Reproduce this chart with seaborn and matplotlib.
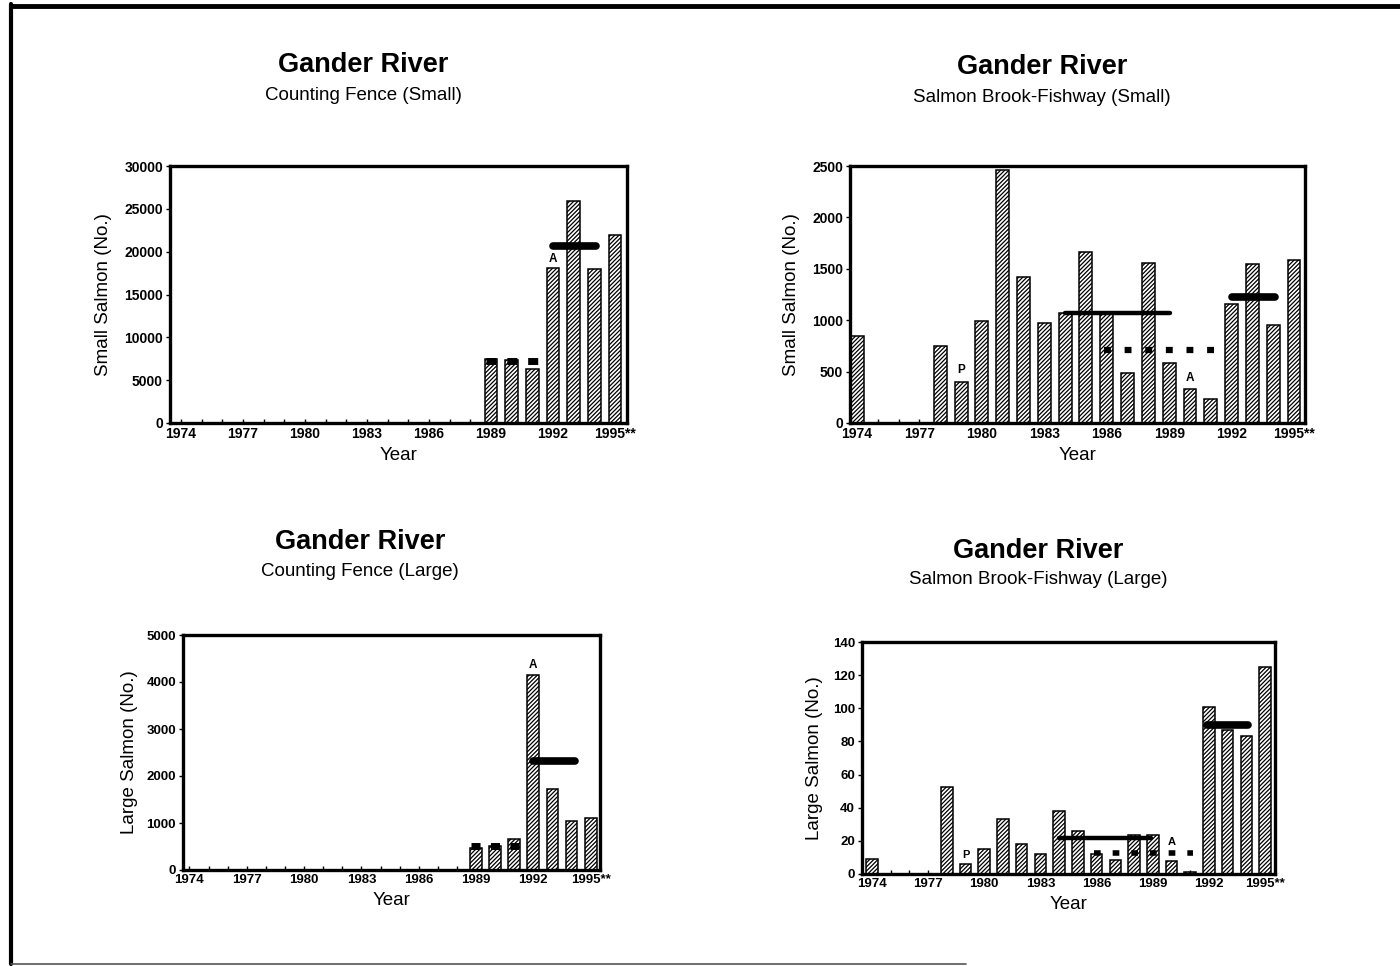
import matplotlib
matplotlib.use("Agg")
import matplotlib.pyplot as plt
from matplotlib.lines import Line2D
import seaborn as sns
import pandas as pd

sns.set_theme(style="white")
plt.rcParams['font.family'] = ['Liberation Sans', 'DejaVu Sans']
plt.rcParams['hatch.linewidth'] = 0.9
for key in ['text.color', 'axes.labelcolor', 'xtick.color', 'ytick.color']:
    plt.rcParams[key] = 'black'

# --- data ---
fence_years = list(range(1989, 1996))
brook_years = list(range(1974, 1996))

fence_small = [7500, 7300, 6300, 18100, 25900, 18000, 21900]
fence_large = [470, 510, 660, 4150, 1720, 1040, 1100]
brook_small = [850, 0, 0, 0, 750, 400, 990, 2460, 1420, 970, 1070,
               1660, 1060, 490, 1555, 585, 330, 235, 1160, 1550, 955, 1590]
brook_large = [9, 0, 0, 0, 52.5, 6, 15, 33, 18, 12, 38,
               26, 12, 8.5, 23.5, 23.5, 8, 1, 101, 87, 83, 125]

# reference lines: (start year, end year, level)
fence_small_mean = (1992, 1994.1, 20700)
fence_small_prev = (1988.75, 1991.3, 7200)
fence_large_mean = (1992, 1994.2, 2320)
fence_large_prev = (1988.75, 1991.3, 520)
brook_small_mean_8489 = (1984, 1989.05, 1070)
brook_small_mean_8691 = (1985.85, 1991.2, 710)
brook_small_mean_9294 = (1992, 1994.1, 1225)
brook_large_mean_8489 = (1984, 1988.9, 22)
brook_large_mean_8691 = (1985.85, 1991.15, 12.7)
brook_large_mean_9294 = (1991.9, 1994.1, 90)

tick_years = [1974, 1977, 1980, 1983, 1986, 1989, 1992, 1995]
tick_labels = ['1974', '1977', '1980', '1983', '1986', '1989', '1992', '1995**']

W, H = 1400, 966
fig = plt.figure(figsize=(14, 9.66), dpi=100)


def px_axes(left, top, right, bottom):
    return fig.add_axes([left / W, 1 - bottom / H, (right - left) / W, (bottom - top) / H])


def draw_panel(ax, years, values, yticks, ylabel, xlim, fs, ylab_x):
    df = pd.DataFrame({'year': years, 'count': values})
    sns.barplot(data=df, x='year', y='count', native_scale=True, width=0.62,
                color='white', saturation=1, edgecolor='black', linewidth=1.1,
                hatch='////////', errorbar=None, ax=ax)
    ax.set_xlim(*xlim)
    ax.set_ylim(yticks[0], yticks[-1])
    ax.set_yticks(yticks)
    ax.set_yticklabels([str(t) for t in yticks], fontsize=fs, fontweight='bold')
    ax.set_xticks(tick_years)
    ax.set_xticks(brook_years, minor=True)
    ax.set_xticklabels(tick_labels, fontsize=fs, fontweight='bold')
    ax.tick_params(axis='x', which='both', direction='in', length=3, width=1,
                   colors='black', pad=3, bottom=True)
    ax.tick_params(axis='y', direction='out', length=3, width=1, pad=2, left=True)
    for sp in ax.spines.values():
        sp.set_linewidth(2.4)
        sp.set_color('black')
    ax.set_ylabel(ylabel, fontsize=13.5)
    ax.set_xlabel('Year', fontsize=13.5)
    ax.yaxis.set_label_coords(ylab_x, 0.5)
    ax.xaxis.set_label_coords(0.5, -0.095)
    ax.grid(False)


def solid(ax, seg, lw):
    ax.plot([seg[0], seg[1]], [seg[2], seg[2]], color='black', lw=lw,
            solid_capstyle='round', zorder=5)


def dotted(ax, seg, lw, on, off):
    ax.plot([seg[0], seg[1]], [seg[2], seg[2]], color='black', lw=lw,
            dashes=(on, off), dash_capstyle='butt', zorder=5)


def mark(ax, x, y, s, dy, fs=8.5):
    ax.annotate(s, xy=(x, y), xytext=(0, dy), textcoords='offset points',
                ha='center', va='bottom', fontsize=fs, fontweight='bold')


# top-left: counting fence, small
ax1 = px_axes(170, 166, 627, 423)
draw_panel(ax1, fence_years, fence_small, list(range(0, 30001, 5000)),
           'Small Salmon (No.)', (1973.47, 1995.58), 10, -0.127)
solid(ax1, fence_small_mean, 5.5)
dotted(ax1, fence_small_prev, 5, 1.45, 1.55)
mark(ax1, 1992, fence_small[3], 'A', 2)

# top-right: Salmon Brook fishway, small
ax2 = px_axes(850, 166, 1305, 423)
draw_panel(ax2, brook_years, brook_small, list(range(0, 2501, 500)),
           'Small Salmon (No.)', (1973.66, 1995.53), 10, -0.11)
solid(ax2, brook_small_mean_8489, 3.2)
dotted(ax2, brook_small_mean_8691, 4.5, 1.1, 2.2)
solid(ax2, brook_small_mean_9294, 5.5)
mark(ax2, 1979, brook_small[5], 'P', 4)
mark(ax2, 1990, brook_small[16], 'A', 4)

# bottom-left: counting fence, large
ax3 = px_axes(183, 635, 600, 870)
draw_panel(ax3, fence_years, fence_large, list(range(0, 5001, 1000)),
           'Large Salmon (No.)', (1973.66, 1995.49), 9.5, -0.108)
solid(ax3, fence_large_mean, 5.5)
dotted(ax3, fence_large_prev, 5, 1.3, 1.5)
mark(ax3, 1992, fence_large[3], 'A', 3)

# bottom-right: Salmon Brook fishway, large
ax4 = px_axes(862, 642, 1275, 874)
draw_panel(ax4, brook_years, brook_large, list(range(0, 141, 20)),
           'Large Salmon (No.)', (1973.47, 1995.53), 9.5, -0.094)
solid(ax4, brook_large_mean_8489, 3.2)
dotted(ax4, brook_large_mean_8691, 4, 1.2, 2.16)
solid(ax4, brook_large_mean_9294, 5.5)
mark(ax4, 1979, brook_large[5], 'P', 3, 8)
mark(ax4, 1990, brook_large[16], 'A', 10, 8)

# titles
titles = [
    (363, 65, 95, 'Counting Fence (Small)'),
    (1042, 67, 97, 'Salmon Brook-Fishway (Small)'),
    (360, 542, 571, 'Counting Fence (Large)'),
    (1038, 551, 579, 'Salmon Brook-Fishway (Large)'),
]
for cx, ty, sy, sub in titles:
    fig.text(cx / W, 1 - ty / H, 'Gander River', ha='center', va='center',
             fontsize=19.5, fontweight='bold')
    fig.text(cx / W, 1 - sy / H, sub, ha='center', va='center', fontsize=13.5)

# page frame
fig.add_artist(Line2D([11 / W, 1], [1 - 6 / H, 1 - 6 / H], color='black', lw=3.5))
fig.add_artist(Line2D([11 / W, 11 / W], [1 - 4 / H, 1 - 964 / H], color='black', lw=3))
fig.add_artist(Line2D([11 / W, 0.69], [1 - 964 / H, 1 - 964 / H], color='#555555', lw=1.2))

fig.savefig('out.png', dpi=100)
